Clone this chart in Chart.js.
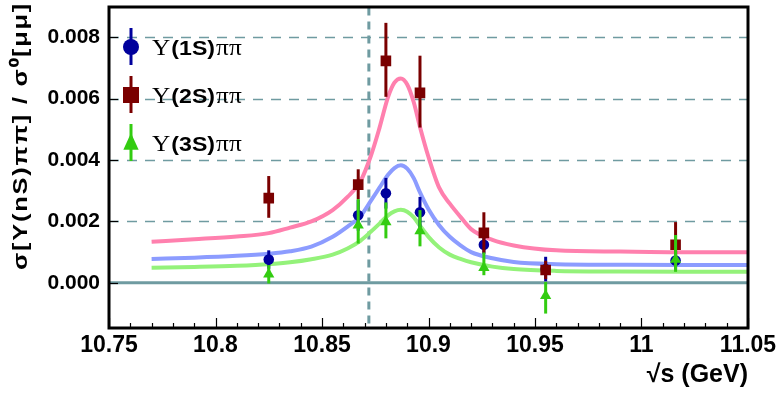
<!DOCTYPE html>
<html><head><meta charset="utf-8">
<script src="https://cdn.jsdelivr.net/npm/chart.js@4.4.0/dist/chart.umd.min.js"></script>
<style>html,body{margin:0;padding:0;background:#fff;} #wrap{position:relative;width:778px;height:397px;}</style>
</head><body><div id="wrap"><canvas id="c" width="778" height="397"></canvas></div>
<script>
// ---- axis ticks ----
const xTicks = [10.75, 10.8, 10.85, 10.9, 10.95, 11, 11.05];
const xTickLabels = ['10.75', '10.8', '10.85', '10.9', '10.95', '11', '11.05'];
const yTicks = [0, 0.002, 0.004, 0.006, 0.008];
const yTickLabels = ['0.000', '0.002', '0.004', '0.006', '0.008'];
const refLineX = 10.872;
const yTitle = 'σ[Υ(nS)ππ] / σ⁰[μμ]';
const xTitle = '√s (GeV)';

// ---- measured points ----
const energies = [10.825, 10.867, 10.880, 10.896, 10.926, 10.955, 11.016];
const y1S      = [0.00076, 0.00220, 0.00292, 0.00230, 0.00124, 0.00045, 0.00073];
const y1SErrLo = [0.00030, 0.00050, 0.00050, 0.00050, 0.00030, 0.00040, 0.00030];
const y1SErrHi = [0.00030, 0.00050, 0.00050, 0.00050, 0.00030, 0.00040, 0.00030];
const y2S      = [0.00276, 0.00320, 0.00723, 0.00619, 0.00163, 0.00042, 0.00124];
const y2SErrLo = [0.00064, 0.00048, 0.00117, 0.00113, 0.00065, 0.00030, 0.00070];
const y2SErrHi = [0.00072, 0.00050, 0.00124, 0.00121, 0.00067, 0.00030, 0.00074];
const y3S      = [0.00028, 0.00188, 0.00198, 0.00169, 0.00049, -0.00042, 0.00076];
const y3SErrLo = [0.00030, 0.00060, 0.00053, 0.00050, 0.00024, 0.00058, 0.00040];
const y3SErrHi = [0.00030, 0.00085, 0.00064, 0.00068, 0.00050, 0.00045, 0.00080];

// ---- fitted curves ----
const curveX  = [10.77, 10.79, 10.81, 10.825, 10.835, 10.845, 10.855, 10.862, 10.868, 10.873, 10.877, 10.881, 10.884, 10.887, 10.890, 10.893, 10.896, 10.900, 10.905, 10.910, 10.915, 10.920, 10.930, 10.940, 10.960, 10.990, 11.020, 11.050];
const curve2S = [0.00134, 0.00142, 0.00151, 0.00162, 0.00180, 0.00200, 0.00237, 0.00280, 0.00330, 0.00415, 0.00505, 0.00605, 0.00652, 0.00666, 0.00646, 0.00590, 0.00508, 0.00410, 0.00310, 0.00258, 0.00215, 0.00175, 0.00140, 0.00122, 0.00106, 0.00102, 0.00100, 0.00100];
const curve1S = [0.00078, 0.00082, 0.00088, 0.00095, 0.00103, 0.00118, 0.00150, 0.00183, 0.00217, 0.00268, 0.00310, 0.00352, 0.00374, 0.00383, 0.00372, 0.00342, 0.00295, 0.00240, 0.00188, 0.00150, 0.00122, 0.00100, 0.00080, 0.00068, 0.00061, 0.00059, 0.00058, 0.00058];
const curve3S = [0.00049, 0.00052, 0.00056, 0.00061, 0.00067, 0.00077, 0.00092, 0.00112, 0.00137, 0.00167, 0.00193, 0.00220, 0.00233, 0.00238, 0.00232, 0.00214, 0.00186, 0.00150, 0.00115, 0.00092, 0.00078, 0.00067, 0.00053, 0.00045, 0.00039, 0.00037, 0.00036, 0.00036];

const legendNames = ['Υ(1S)ππ', 'Υ(2S)ππ', 'Υ(3S)ππ'];

const C1 = '#00009c', C2 = '#7a0000', C3 = '#33cc11';
const L1 = '#8c9cff', L2 = '#ff80ae', L3 = '#94f27a';
const GRID = '#6f9ba1';

const pts = (xs, ys) => xs.map((x, i) => ({x: x, y: ys[i]}));

const errSets = {
  'p1': {c: C1, lo: y1SErrLo, hi: y1SErrHi, y: y1S},
  'p2': {c: C2, lo: y2SErrLo, hi: y2SErrHi, y: y2S},
  'p3': {c: C3, lo: y3SErrLo, hi: y3SErrHi, y: y3S}
};

const errorBarPlugin = {
  id: 'errbars',
  beforeDatasetDraw(chart, args) {
    const ds = chart.data.datasets[args.index];
    const e = errSets[ds.key];
    if (!e) return;
    const xs = chart.scales.x, ys = chart.scales.y, ctx = chart.ctx;
    ctx.save();
    ctx.strokeStyle = e.c; ctx.lineWidth = 3; ctx.lineCap = 'butt';
    energies.forEach((xv, i) => {
      const px = xs.getPixelForValue(xv);
      ctx.beginPath();
      ctx.moveTo(px, ys.getPixelForValue(e.y[i] - e.lo[i]));
      ctx.lineTo(px, ys.getPixelForValue(e.y[i] + e.hi[i]));
      ctx.stroke();
    });
    ctx.restore();
  }
};

const backPlugin = {
  id: 'back',
  beforeDatasetsDraw(chart) {
    const {ctx, chartArea: a, scales: {x, y}} = chart;
    ctx.save();
    ctx.strokeStyle = GRID;
    ctx.lineWidth = 1.5;
    ctx.setLineDash([10, 8]);
    yTicks.forEach(v => {
      if (v === 0) return;
      const py = Math.round(y.getPixelForValue(v)) + 0.5;
      ctx.beginPath(); ctx.moveTo(a.left, py); ctx.lineTo(a.right, py); ctx.stroke();
    });
    ctx.lineWidth = 3;
    ctx.setLineDash([8, 6]);
    const px = x.getPixelForValue(refLineX);
    ctx.beginPath(); ctx.moveTo(px, a.top); ctx.lineTo(px, a.bottom); ctx.stroke();
    ctx.setLineDash([]);
    ctx.lineWidth = 3;
    const p0 = y.getPixelForValue(0);
    ctx.beginPath(); ctx.moveTo(a.left, p0); ctx.lineTo(a.right, p0); ctx.stroke();
    ctx.restore();
  }
};

function drawMarker(ctx, style, cx, cy, s, color) {
  ctx.fillStyle = color;
  ctx.beginPath();
  if (style === 'circle') { ctx.arc(cx, cy, s, 0, Math.PI * 2); }
  else if (style === 'rect') { ctx.rect(cx - s, cy - s, 2 * s, 2 * s); }
  else { ctx.moveTo(cx, cy - s * 1.1); ctx.lineTo(cx + s * 0.85, cy + s * 0.75); ctx.lineTo(cx - s * 0.85, cy + s * 0.75); ctx.closePath(); }
  ctx.fill();
}

const frontPlugin = {
  id: 'front',
  afterDraw(chart) {
    const {ctx, chartArea: a, scales: {x, y}} = chart;
    ctx.save();
    ctx.strokeStyle = '#000'; ctx.lineWidth = 1.2;
    for (let k = 0; k <= 30; k++) {
      const v = 10.75 + k * 0.01;
      const px = Math.round(x.getPixelForValue(v)) + 0.5;
      const len = (k % 5 === 0) ? 10 : 5;
      ctx.beginPath(); ctx.moveTo(px, a.bottom); ctx.lineTo(px, a.bottom - len); ctx.stroke();
    }
    yTicks.forEach(v => {
      const py = Math.round(y.getPixelForValue(v)) + 0.5;
      ctx.beginPath(); ctx.moveTo(a.left, py); ctx.lineTo(a.left + 9, py); ctx.stroke();
    });
    ctx.lineWidth = 3;
    ctx.strokeRect(a.left, a.top - 0.5, a.right - a.left, a.bottom - a.top + 0.5);

    // y-axis title
    ctx.save();
    ctx.font = 'bold 21px "Liberation Sans"';
    try { ctx.letterSpacing = '1.5px'; } catch (e) {}
    const tw = ctx.measureText(yTitle).width;
    ctx.translate(21, 270);
    ctx.rotate(-Math.PI / 2);
    ctx.scale(268 / tw, 1);
    ctx.fillStyle = '#000';
    ctx.textBaseline = 'middle';
    ctx.textAlign = 'left';
    ctx.fillText(yTitle, 0, 0);
    ctx.restore();

    // legend
    const items = [
      {style: 'circle', color: C1, s: 8, y: 47},
      {style: 'rect', color: C2, s: 8, y: 95},
      {style: 'tri', color: C3, s: 9, y: 143}
    ];
    const lx = 131;
    items.forEach((it, i) => {
      ctx.strokeStyle = it.color; ctx.lineWidth = 3;
      ctx.beginPath(); ctx.moveTo(lx, it.y - 19); ctx.lineTo(lx, it.y + 18); ctx.stroke();
      drawMarker(ctx, it.style, lx, it.y, it.s, it.color);
      const name = legendNames[i];
      ctx.save();
      ctx.translate(152, it.y + 8);
      ctx.scale(1.1, 1);
      ctx.fillStyle = '#000';
      ctx.textBaseline = 'alphabetic';
      let cx = 0;
      ctx.font = '23px "Liberation Serif"';
      const a1 = name.slice(0, 1);
      ctx.fillText(a1, cx, 0); cx += ctx.measureText(a1).width + 1;
      ctx.font = 'bold 21px "Liberation Sans"';
      const a2 = name.slice(1, name.length - 2);
      ctx.fillText(a2, cx, 0); cx += ctx.measureText(a2).width + 1;
      ctx.font = '23px "Liberation Serif"';
      ctx.fillText(name.slice(name.length - 2), cx, 0);
      ctx.restore();
    });
    ctx.restore();
  }
};

new Chart(document.getElementById('c'), {
  type: 'scatter',
  data: {
    datasets: [
      {key: 'p3', data: pts(energies, y3S), pointStyle: 'triangle', pointRadius: 6.5, backgroundColor: C3, borderColor: C3, borderWidth: 0, order: 1},
      {key: 'p2', data: pts(energies, y2S), pointStyle: 'rect', pointRadius: 7.5, backgroundColor: C2, borderColor: C2, borderWidth: 0, order: 2},
      {key: 'p1', data: pts(energies, y1S), pointStyle: 'circle', pointRadius: 5.3, backgroundColor: C1, borderColor: C1, borderWidth: 0, order: 3},
      {data: pts(curveX, curve3S), showLine: true, pointRadius: 0, borderColor: L3, borderWidth: 4, cubicInterpolationMode: 'monotone', order: 10},
      {data: pts(curveX, curve1S), showLine: true, pointRadius: 0, borderColor: L1, borderWidth: 4, cubicInterpolationMode: 'monotone', order: 11},
      {data: pts(curveX, curve2S), showLine: true, pointRadius: 0, borderColor: L2, borderWidth: 4, cubicInterpolationMode: 'monotone', order: 12}
    ]
  },
  options: {
    responsive: false,
    animation: false,
    devicePixelRatio: 1,
    layout: {padding: {top: 2, right: 30, left: 0, bottom: 0}},
    plugins: {legend: {display: false}, tooltip: {enabled: false}},
    scales: {
      x: {
        type: 'linear', min: 10.75, max: 11.05,
        afterBuildTicks: s => { s.ticks = xTicks.map(v => ({value: v})); },
        afterFit: s => { s.height = 69; s.paddingLeft = 0; s.paddingRight = 0; },
        grid: {display: false, drawTicks: false},
        border: {display: false},
        ticks: {autoSkip: false, maxRotation: 0, padding: 4, color: '#000',
          font: {family: '"Liberation Sans"', weight: 'bold', size: 23},
          callback: (v, i) => xTickLabels[i]},
        title: {display: true, text: xTitle, align: 'end', color: '#000',
          font: {family: '"Liberation Sans"', weight: 'bold', size: 25}, padding: {top: 0, bottom: 7}}
      },
      y: {
        type: 'linear', min: -0.00147, max: 0.00897,
        afterBuildTicks: s => { s.ticks = yTicks.map(v => ({value: v})); },
        afterFit: s => { s.width = 109; s.paddingTop = 0; s.paddingBottom = 0; },
        grid: {display: false, drawTicks: false},
        border: {display: false},
        ticks: {autoSkip: false, padding: 9, color: '#000',
          font: {family: '"Liberation Sans"', weight: 'bold', size: 21},
          callback: (v, i) => yTickLabels[i]},
        title: {display: false}
      }
    }
  },
  plugins: [backPlugin, errorBarPlugin, frontPlugin]
});
</script>
</body></html>
